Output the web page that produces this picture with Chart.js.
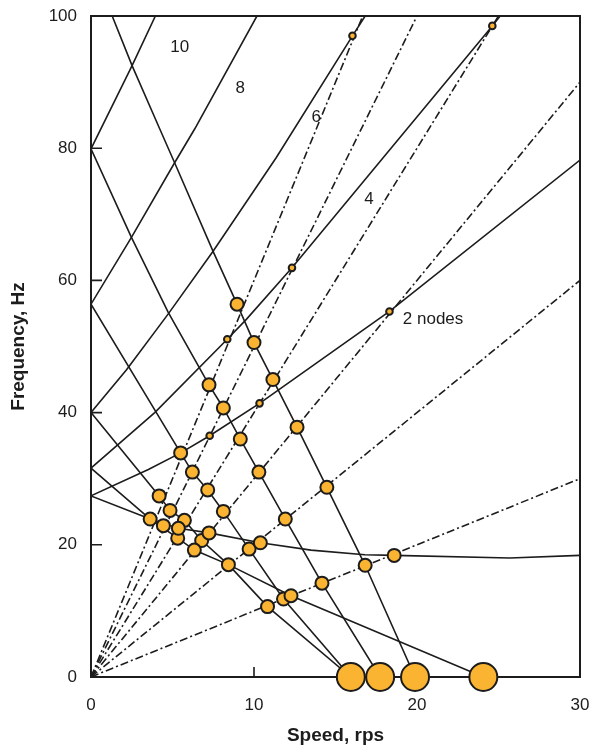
<!DOCTYPE html>
<html>
<head>
<meta charset="utf-8">
<script src="https://cdn.jsdelivr.net/npm/chart.js@4"></script>
<style>
  html, body { margin: 0; padding: 0; background: #fff; overflow: hidden; }
  #wrap { width: 593px; height: 750px; }
  canvas { display: block; }
</style>
</head>
<body>
<div id="wrap"><canvas id="campbell"></canvas></div>
<script>
// axis ticks
const speedTicks = [0, 10, 20, 30];
const freqTicks = [0, 20, 40, 60, 80, 100];

// engine orders (dash-dot rays from the origin), end point of each ray
const engineOrders = [1, 2, 3, 4, 5, 6];
const orderEnds = [[30, 30], [30, 60], [30, 90], [25, 100], [20, 100], [16.67, 100]];

// forward travelling waves [speed rps, frequency Hz]
const fwd2 = [[0, 27.4], [3.52, 31.4], [5.5, 33.9], [7.28, 36.5], [10.34, 41.4], [18.31, 55.3], [30, 78.2]];
const fwd4 = [[0, 31.6], [3.91, 40.0], [8.36, 51.1], [9.53, 54.1], [12.33, 61.9], [24.62, 98.5], [25.1, 100]];
const fwd6 = [[0, 40], [2.18, 46.5], [4.73, 54.9], [7.49, 64.4], [11.37, 78.6], [16.04, 97.0], [16.82, 100]];
const fwd8 = [[0, 56.4], [2.48, 66.5], [5.13, 77.8], [6.36, 82.9], [10.18, 100]];
const fwd10 = [[0, 79.9], [2.52, 92.5], [3.95, 100]];

// backward travelling waves
const bwd2 = [[0, 27.4], [3.63, 23.9], [5.36, 22.5], [7.24, 21.8], [10.39, 20.3], [13.5, 19.2], [16.8, 18.5], [18.6, 18.4], [25.7, 18.0], [30, 18.4]];
const bwd4 = [[0, 31.6], [3.63, 23.9], [5.32, 21.0], [6.34, 19.2], [8.43, 17.0], [12.27, 12.3], [24.07, 0]];
const bwd6 = [[0, 40], [4.18, 27.4], [4.85, 25.2], [5.73, 23.7], [6.79, 20.65], [8.43, 17.0], [10.83, 10.65], [15.94, 0]];
const bwd8 = [[0, 56.4], [5.5, 33.9], [6.22, 31.0], [7.16, 28.3], [8.12, 25.05], [9.7, 19.35], [11.81, 11.8], [15.94, 0]];
const bwd10 = [[0, 79.9], [2.48, 66.5], [4.73, 55.2], [7.24, 44.2], [8.12, 40.7], [9.16, 36.0], [10.3, 31.0], [11.92, 23.9], [14.17, 14.2], [17.74, 0]];
const bwd12 = [[1.3, 100], [2.52, 92.5], [4.22, 82.9], [5.13, 77.8], [7.49, 64.4], [8.96, 56.4], [10.0, 50.6], [11.16, 45.0], [12.64, 37.8], [14.47, 28.7], [16.82, 16.9], [19.88, 0]];

// resonance markers
const backwardHits = [
  [8.96, 56.4], [10.0, 50.6], [11.16, 45.0], [12.64, 37.8], [14.47, 28.7], [16.82, 16.9],
  [7.24, 44.2], [8.12, 40.7], [9.16, 36.0], [10.3, 31.0], [11.92, 23.9], [14.17, 14.2],
  [5.5, 33.9], [6.22, 31.0], [7.16, 28.3], [8.12, 25.05], [9.7, 19.35], [11.81, 11.8],
  [4.18, 27.4], [4.85, 25.2], [5.73, 23.7], [6.79, 20.65], [8.43, 17.0], [10.83, 10.65],
  [3.63, 23.9], [4.44, 22.9], [5.32, 21.0], [6.34, 19.2], [12.27, 12.3],
  [5.36, 22.5], [7.24, 21.8], [10.39, 20.3], [18.6, 18.4]
];
const forwardHits = [[7.28, 36.5], [10.34, 41.4], [18.31, 55.3], [8.36, 51.1], [12.33, 61.9], [24.62, 98.5], [16.04, 97.0]];
const criticalSpeeds = [15.94, 17.74, 19.88, 24.07];

// curve labels
const curveLabels = ['10', '8', '6', '4', '2 nodes'];
const labelSpeed = [5.44, 9.16, 13.82, 17.06, 19.13];
const labelFreq = [95.3, 89.0, 84.7, 72.3, 54.1];

const ink = '#1c1c1c';
const orange = '#fbb431';
const fontFamily = '"Liberation Sans", Arial, sans-serif';
const toXY = pts => pts.map(p => ({x: p[0], y: p[1]}));

const datasets = [];
datasets.push({
  data: criticalSpeeds.map(s => ({x: s, y: 0})),
  pointRadius: 14, pointBackgroundColor: orange, pointBorderColor: ink, pointBorderWidth: 2,
  showLine: false, clip: false, order: 0
});
datasets.push({
  data: toXY(backwardHits),
  pointRadius: 6.5, pointBackgroundColor: orange, pointBorderColor: ink, pointBorderWidth: 2,
  showLine: false, clip: false, order: 0
});
datasets.push({
  data: toXY(forwardHits),
  pointRadius: 3.3, pointBackgroundColor: orange, pointBorderColor: ink, pointBorderWidth: 2,
  showLine: false, clip: false, order: 0
});
[fwd2, fwd4, fwd6, fwd8, fwd10, bwd2, bwd4, bwd6, bwd8, bwd10, bwd12].forEach(c => {
  datasets.push({
    data: toXY(c), showLine: true, borderColor: ink, borderWidth: 1.6,
    pointRadius: 0, tension: 0, order: 2
  });
});
engineOrders.forEach((k, i) => {
  datasets.push({
    data: [{x: 0, y: 0}, {x: orderEnds[i][0], y: orderEnds[i][1]}],
    showLine: true, borderColor: ink, borderWidth: 1.6, borderDash: [8, 3, 2, 3],
    pointRadius: 0, order: 3
  });
});

const framePlugin = {
  id: 'frame',
  beforeDatasetsDraw(chart) {
    const {ctx, chartArea: a, scales: {x, y}} = chart;
    ctx.save();
    ctx.strokeStyle = ink;
    ctx.lineWidth = 2;
    ctx.strokeRect(a.left, a.top, a.right - a.left, a.bottom - a.top);
    ctx.lineWidth = 1.6;
    ctx.beginPath();
    speedTicks.forEach(v => {
      const px = x.getPixelForValue(v);
      ctx.moveTo(px, a.bottom);
      ctx.lineTo(px, a.bottom - 10);
    });
    freqTicks.forEach(v => {
      const py = y.getPixelForValue(v);
      ctx.moveTo(a.left, py);
      ctx.lineTo(a.left + 11, py);
    });
    ctx.stroke();
    // speed tick labels
    ctx.fillStyle = ink;
    ctx.font = '17px ' + fontFamily;
    ctx.textAlign = 'center';
    ctx.textBaseline = 'top';
    speedTicks.forEach(v => ctx.fillText(String(v), x.getPixelForValue(v), a.bottom + 20));
    ctx.restore();
  },
  afterDraw(chart) {
    const {ctx, scales: {x, y}} = chart;
    ctx.save();
    ctx.fillStyle = ink;
    ctx.font = '17px ' + fontFamily;
    ctx.textBaseline = 'middle';
    curveLabels.forEach((t, i) => {
      ctx.textAlign = i === curveLabels.length - 1 ? 'left' : 'center';
      ctx.fillText(t, x.getPixelForValue(labelSpeed[i]), y.getPixelForValue(labelFreq[i]));
    });
    ctx.restore();
  }
};

const tickFont = {family: fontFamily, size: 17};
const titleFont = {family: fontFamily, size: 19, weight: 'bold'};

new Chart(document.getElementById('campbell'), {
  type: 'scatter',
  data: {datasets},
  plugins: [framePlugin],
  options: {
    responsive: true,
    maintainAspectRatio: false,
    animation: false,
    layout: {autoPadding: false, padding: {top: 16, right: 13, left: 0, bottom: 0}},
    plugins: {legend: {display: false}, tooltip: {enabled: false}},
    scales: {
      x: {
        type: 'linear', min: 0, max: 30,
        afterFit: s => { s.height = 73; s.paddingLeft = 0; s.paddingRight = 0; },
        afterBuildTicks: s => { s.ticks = speedTicks.map(v => ({value: v})); },
        grid: {display: false, drawTicks: false},
        border: {display: false},
        ticks: {display: false},
        title: {display: true, text: 'Speed, rps', font: titleFont, color: ink, padding: {top: 4, bottom: 3}}
      },
      y: {
        type: 'linear', min: 0, max: 100,
        afterFit: s => { s.width = 91; s.paddingTop = 0; s.paddingBottom = 0; },
        afterBuildTicks: s => { s.ticks = freqTicks.map(v => ({value: v})); },
        grid: {display: false, drawTicks: false},
        border: {display: false},
        ticks: {font: tickFont, color: ink, padding: 14},
        title: {display: true, text: 'Frequency, Hz', font: titleFont, color: ink, padding: {top: 7, bottom: 4}}
      }
    }
  }
});
</script>
</body>
</html>
